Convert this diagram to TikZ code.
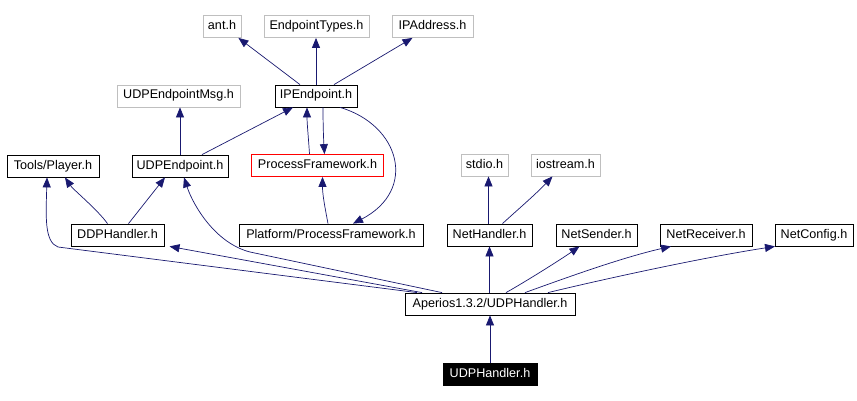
\documentclass[tikz,border=0pt]{standalone}
\usepackage{fontspec}
\setmainfont{Liberation Sans}
\usetikzlibrary{arrows.meta}
\definecolor{edgec}{RGB}{25,25,112}
\definecolor{grayb}{RGB}{191,191,191}
\definecolor{pfred}{RGB}{255,0,0}
\begin{document}
\begin{tikzpicture}[x=1pt,y=-1pt,
  box/.style={draw, line width=0.8pt, rectangle, minimum height=22pt, inner sep=0pt,
              text height=9pt, text depth=3pt,
              font=\fontsize{12.6}{14}\selectfont, anchor=center},
  bbox/.style={box, draw=black},
  gbox/.style={box, draw=grayb},
  rbox/.style={box, draw=pfred},
  hbox/.style={box, draw=black, fill=black, text=white},
  dep/.style={draw=edgec, line width=0.7pt, -{Triangle[length=10pt,width=8pt]}}]
\useasboundingbox[fill=white] (0,0) rectangle (857,401);

% nodes
\node[gbox, minimum width=38pt]  (ant)    at (222,26.5)   {ant.h};
\node[gbox, minimum width=105pt] (ept)    at (316.5,26.5) {EndpointTypes.h};
\node[gbox, minimum width=81pt]  (ipa)    at (432.5,26.5) {IPAddress.h};
\node[bbox, minimum width=82pt]  (ipe)    at (316,96)     {IPEndpoint.h};
\node[gbox, minimum width=123pt] (udpmsg) at (178.5,96)   {UDPEndpointMsg.h};
\node[bbox, minimum width=92pt]  (player) at (53,166)     {Tools/Player.h};
\node[bbox, minimum width=96pt]  (udpe)   at (180,166)    {UDPEndpoint.h};
\node[rbox, minimum width=132pt] (pf)     at (317.5,165.5) {ProcessFramework.h};
\node[gbox, minimum width=47pt]  (stdio)  at (484.5,165)  {stdio.h};
\node[gbox, minimum width=69pt]  (iostr)  at (565.5,165)  {iostream.h};
\node[bbox, minimum width=93pt]  (ddp)    at (117.5,235)  {DDPHandler.h};
\node[bbox, minimum width=184pt] (ppf)    at (331,235)    {Platform/ProcessFramework.h};
\node[bbox, minimum width=85pt]  (neth)   at (489.5,235)  {NetHandler.h};
\node[bbox, minimum width=81pt]  (nets)   at (596.5,235)  {NetSender.h};
\node[bbox, minimum width=92pt]  (netr)   at (706,235)    {NetReceiver.h};
\node[bbox, minimum width=78pt]  (netc)   at (814,235)    {NetConfig.h};
\node[bbox, minimum width=170pt] (aper)   at (490,304)    {Aperios1.3.2/UDPHandler.h};
\node[hbox, minimum width=94pt]  (udph)   at (490,374)    {UDPHandler.h};

% edges
\draw[dep] ([xshift=-16pt]ipe.north) -- ([xshift=-3pt]ant.south east);
\draw[dep] (ipe.north) -- (ipe.north |- ept.south);
\draw[dep] ([xshift=18pt]ipe.north) -- ([xshift=-20pt]ipa.south);
\draw[dep] (udpe.north) -- (udpe.north |- udpmsg.south);
\draw[dep] ([xshift=22pt]udpe.north) -- ([xshift=-23pt]ipe.south);
\draw[dep] ([xshift=-8pt]pf.north) .. controls +(-1,-16) and +(0,16) .. ([xshift=-9pt]ipe.south);
\draw[dep] ([xshift=7pt]ipe.south) .. controls +(0,16) and +(-1,-16) .. ([xshift=7pt]pf.north);
\draw[dep] ([xshift=24pt]ipe.south) .. controls (400,125) and (418,190) .. ([xshift=22pt]ppf.north);
\draw[dep] ([xshift=-3pt]ppf.north) .. controls +(-3,-16) and +(0,18) .. ([xshift=5pt]pf.south);
\draw[dep] ([xshift=-10pt]ddp.north) .. controls +(-10,-14) and +(8,12) .. ([xshift=12pt]player.south);
\draw[dep] ([xshift=11pt]ddp.north) -- ([xshift=-15pt]udpe.south);
\draw[dep] ([xshift=-73pt]aper.north) -- (58,247) .. controls (44,242) and (46,215) .. ([xshift=-6pt]player.south);
\draw[dep] ([xshift=-68pt]aper.north) -- ([xshift=52pt]ddp.south);
\draw[dep] ([xshift=-48pt]aper.north) -- (250,252) .. controls (215,243) and (193,205) .. ([xshift=4pt]udpe.south);
\draw[dep] (aper.north -| neth.south) -- (neth.south);
\draw[dep] ([xshift=16pt]aper.north) .. controls (525,282) and (560,260) .. ([xshift=-17pt]nets.south);
\draw[dep] ([xshift=35pt]aper.north) .. controls (560,280) and (620,258) .. ([xshift=-35pt]netr.south);
\draw[dep] ([xshift=58pt]aper.north) .. controls (600,280) and (700,258) .. ([xshift=-39pt]netc.south);
\draw[dep] ([xshift=-1pt]neth.north) -- ([xshift=-1pt]neth.north |- stdio.south);
\draw[dep] ([xshift=13pt]neth.north) .. controls (515,212) and (535,195) .. ([xshift=-13pt]iostr.south);
\draw[dep] (udph.north) -- (aper.south);
\end{tikzpicture}
\end{document}
